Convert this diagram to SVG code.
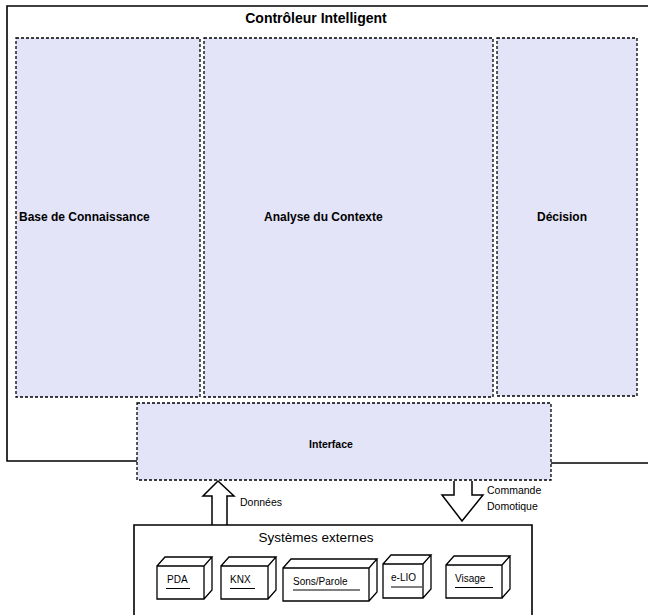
<svg xmlns="http://www.w3.org/2000/svg" width="648" height="615" viewBox="0 0 648 615">
  <style>
    .frame { fill: none; stroke: #000; stroke-width: 1.6; }
    .module { fill: #e3e4f8; stroke: #000; stroke-width: 1.3; stroke-dasharray: 3 2; }
    .lbl { font-family: "Liberation Sans", Arial, sans-serif; fill: #000; }
    .bold { font-weight: bold; }
    .block { fill: #fff; stroke: #000; stroke-width: 1.5; stroke-linejoin: miter; }
    .cube { fill: #fff; stroke: #000; stroke-width: 1.3; stroke-linejoin: miter; }
    .uline { stroke: #000; stroke-width: 1; }
  </style>

  <!-- Controller frame (open on the right, split by the interface) -->
  <g id="controleur">
    <path class="frame" d="M648 6 H7 V461 H137"/>
    <path class="frame" d="M551 463 H648"/>
    <text class="lbl bold" x="316" y="23" font-size="14" text-anchor="middle">Contrôleur Intelligent</text>
  </g>

  <g id="base-connaissance">
    <rect class="module" x="16" y="38" width="184" height="359"/>
    <text class="lbl bold" x="19" y="221" font-size="12">Base de Connaissance</text>
  </g>

  <g id="analyse-contexte">
    <rect class="module" x="204" y="38" width="289" height="359"/>
    <text class="lbl bold" x="264" y="221" font-size="12">Analyse du Contexte</text>
  </g>

  <g id="decision">
    <rect class="module" x="497" y="38" width="140" height="358"/>
    <text class="lbl bold" x="537" y="221" font-size="12">Décision</text>
  </g>

  <g id="interface">
    <rect class="module" x="137" y="403" width="414" height="77"/>
    <text class="lbl bold" x="331" y="448" font-size="10.5" text-anchor="middle">Interface</text>
  </g>

  <!-- Data flows between interface and external systems -->
  <g id="connectors">
    <path class="block" d="M212 525 V496 H203 L218 481 L234 496 H227 V525"/>
    <text class="lbl" x="240" y="506" font-size="10.5">Données</text>
    <path class="block" d="M454 481 V495 H442 L462 521 L483 495 H472 V481"/>
    <text class="lbl" x="487" y="494" font-size="10.5">Commande</text>
    <text class="lbl" x="487" y="510" font-size="10.5">Domotique</text>
  </g>

  <g id="systemes-externes">
    <path class="frame" d="M134 615 V525 H532 V615" stroke-width="1.4"/>
    <text class="lbl" x="316" y="542" font-size="13.5" text-anchor="middle">Systèmes externes</text>
  </g>

  <!-- Device boxes: front face + top and side faces offset by (8,-9) -->
  <g id="pda">
    <path class="cube" d="M157 566 h47 v33 h-47 Z M157 566 l8 -9 h47 l-8 9 M204 599 l8 -9 v-33"/>
    <text class="lbl" x="167" y="583" font-size="10">PDA</text>
    <line class="uline" x1="166" y1="588.5" x2="190" y2="588.5"/>
  </g>

  <g id="knx">
    <path class="cube" d="M221 566 h47 v33 h-47 Z M221 566 l8 -9 h47 l-8 9 M268 599 l8 -9 v-33"/>
    <text class="lbl" x="230" y="583" font-size="10">KNX</text>
    <line class="uline" x1="230" y1="588.5" x2="255" y2="588.5"/>
  </g>

  <g id="sons-parole">
    <path class="cube" d="M283 568 h86 v33 h-86 Z M283 568 l8 -9 h86 l-8 9 M369 601 l8 -9 v-33"/>
    <text class="lbl" x="293" y="585" font-size="10">Sons/Parole</text>
    <line class="uline" x1="293" y1="590" x2="360" y2="590"/>
  </g>

  <g id="e-lio">
    <path class="cube" d="M383 564 h40 v34 h-40 Z M383 564 l8 -9 h40 l-8 9 M423 598 l8 -9 v-34"/>
    <text class="lbl" x="391" y="581" font-size="10">e-LIO</text>
    <line class="uline" x1="391" y1="587" x2="422" y2="587"/>
  </g>

  <g id="visage">
    <path class="cube" d="M446 565 h56 v33 h-56 Z M446 565 l8 -9 h56 l-8 9 M502 598 l8 -9 v-33"/>
    <text class="lbl" x="455" y="582" font-size="10">Visage</text>
    <line class="uline" x1="455" y1="587.5" x2="493" y2="587.5"/>
  </g>
</svg>
